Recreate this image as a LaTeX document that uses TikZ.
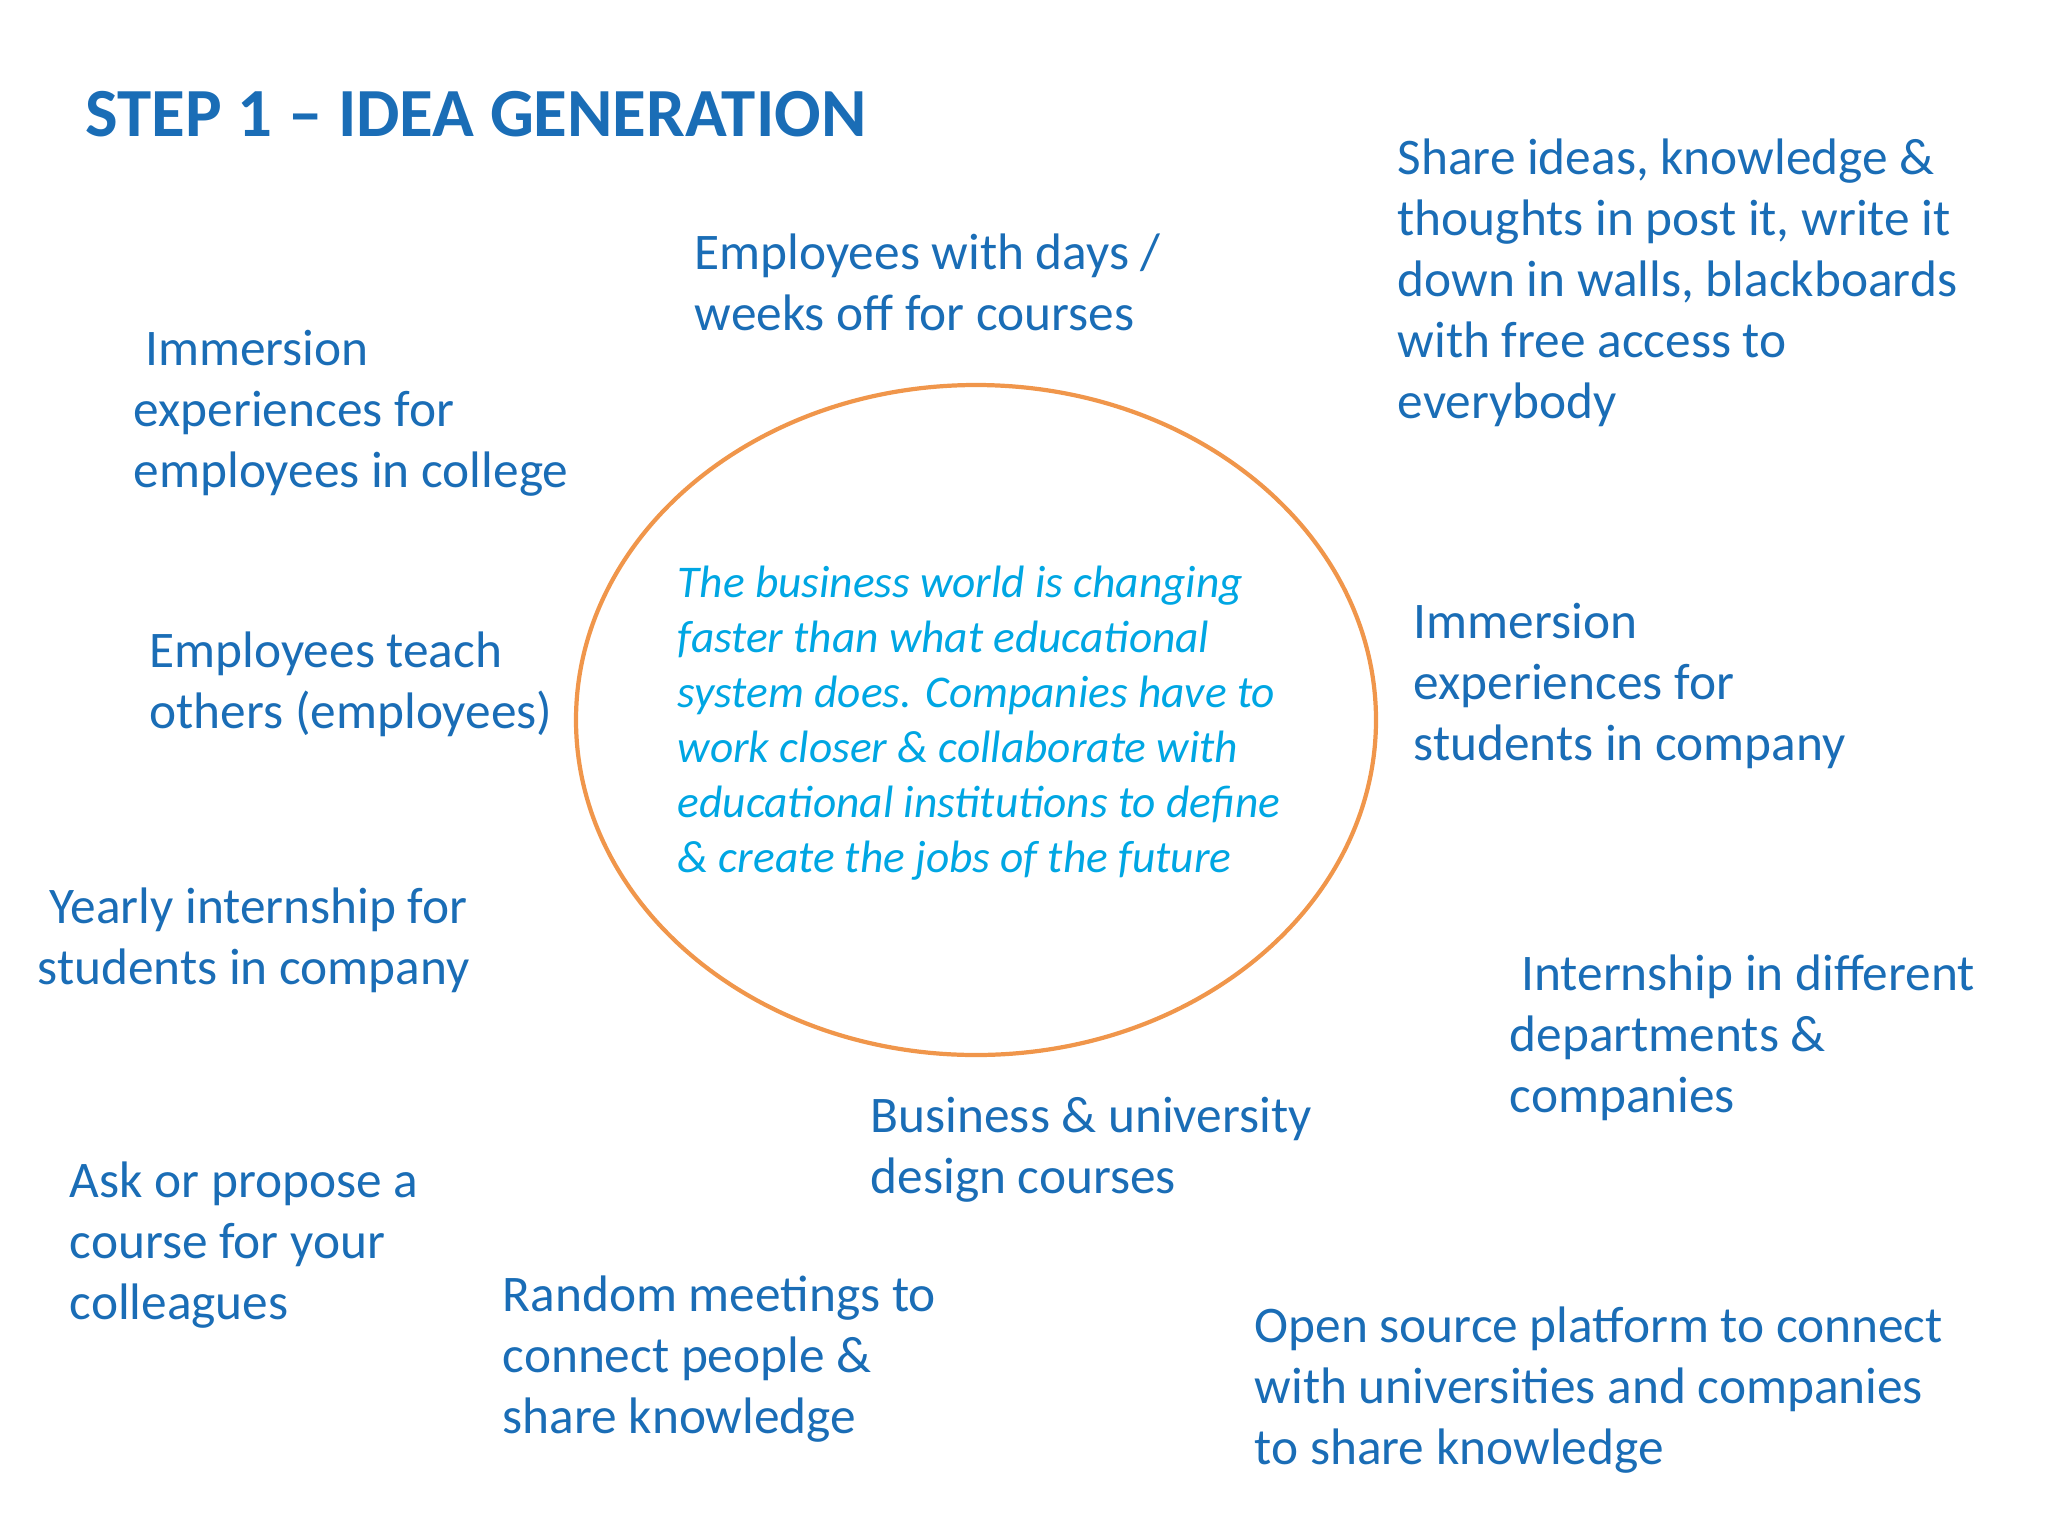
\documentclass[tikz,border=0pt]{standalone}
\usepackage{fontspec}
\setmainfont{Carlito}
\definecolor{ideablue}{HTML}{1A6DB6}
\definecolor{coreblue}{HTML}{00A6E3}
\definecolor{ringorange}{HTML}{F0964B}

\begin{document}
\begin{tikzpicture}
[x=0.01cm,y=-0.01cm
,idea/.style={anchor=base west,align=left,inner sep=0pt,text=ideablue
  ,font=\fontsize{14.6}{17.3}\selectfont}
,core/.style={idea,text=coreblue,font=\fontsize{12.9}{15.6}\selectfont\itshape}
,headline/.style={anchor=base west,inner sep=0pt,text=ideablue
  ,font=\fontsize{19.6}{24}\selectfont\bfseries}
,ring/.style={draw=ringorange,line width=1.2pt}]
\useasboundingbox (0,0) rectangle (2048,1536);
\node[headline] (title) at (85,136) {STEP 1 -- IDEA GENERATION};

\draw[ring] (976,720) ellipse [x radius=400,y radius=335];
% multi-line nodes: base = baseline of the last line
\node[core] (centre) at (677,872) {The business world is changing\\faster than what educational\\system does. Companies have to\\work closer \& collaborate with\\educational institutions to define\\\& create the jobs of the future};

\node[idea] (i1) at (694,330) {Employees with days /\\weeks off for courses};
\node[idea] (i2) at (1397,418) {Share ideas, knowledge \&\\thoughts in post it, write it\\down in walls, blackboards\\with free access to\\everybody};
\node[idea] (i3) at (133,487) {~Immersion\\experiences for\\employees in college};
\node[idea] (i4) at (149,728) {Employees teach\\others (employees)};
\node[idea] (i5) at (1413,760) {Immersion\\experiences for\\students in company};
\node[idea] (i6) at (37,984) {~Yearly internship for\\students in company};
\node[idea] (i7) at (1509,1112) {~Internship in different\\departments \&\\companies};
\node[idea] (i8) at (870,1193) {Business \& university\\design courses};
\node[idea] (i9) at (69,1319) {Ask or propose a\\course for your\\colleagues};
\node[idea] (i10) at (502,1433) {Random meetings to\\connect people \&\\share knowledge};
\node[idea] (i11) at (1254,1464) {Open source platform to connect\\with universities and companies\\to share knowledge};
\end{tikzpicture}
\end{document}
